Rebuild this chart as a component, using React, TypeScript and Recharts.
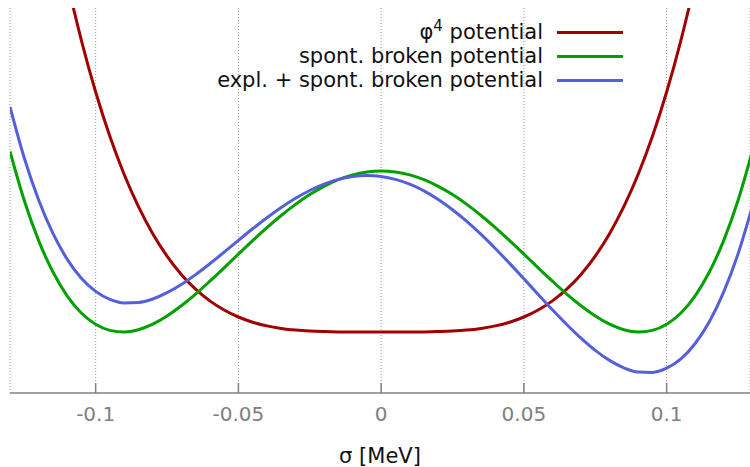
import React from 'react';
import { LineChart, Line, XAxis, YAxis, CartesianGrid, Legend } from 'recharts';

// sigma values [MeV]
const sigma: number[] = [
  -0.13, -0.125, -0.12, -0.115, -0.11, -0.105, -0.1, -0.095, -0.09, -0.085, -0.08, -0.075, -0.07,
  -0.065, -0.06, -0.055, -0.05, -0.045, -0.04, -0.035, -0.03, -0.025, -0.02, -0.015, -0.01, -0.005,
  0,
  0.005, 0.01, 0.015, 0.02, 0.025, 0.03, 0.035, 0.04, 0.045, 0.05, 0.055, 0.06, 0.065,
  0.07, 0.075, 0.08, 0.085, 0.09, 0.095, 0.1, 0.105, 0.11, 0.115, 0.12, 0.125, 0.13,
];

// phi^4 potential (arbitrary units)
const phi4: number[] = [
  6.855, 5.859, 4.977, 4.198, 3.514, 2.917, 2.4, 1.955, 1.575, 1.253, 0.983, 0.759, 0.576,
  0.428, 0.311, 0.22, 0.15, 0.098, 0.061, 0.036, 0.019, 0.009, 0.004, 0.001, 0.0, 0.0,
  0.0,
  0.0, 0.0, 0.001, 0.004, 0.009, 0.019, 0.036, 0.061, 0.098, 0.15, 0.22, 0.311, 0.428,
  0.576, 0.759, 0.983, 1.253, 1.575, 1.955, 2.4, 2.917, 3.514, 4.198, 4.977, 5.859, 6.855,
];

// spontaneously broken potential
const spont: number[] = [
  1.806, 1.315, 0.916, 0.602, 0.362, 0.19, 0.077, 0.016, 0.0, 0.023, 0.078, 0.16, 0.262,
  0.379, 0.508, 0.642, 0.779, 0.914, 1.044, 1.165, 1.276, 1.374, 1.457, 1.523, 1.571, 1.6,
  1.61,
  1.6, 1.571, 1.523, 1.457, 1.374, 1.276, 1.165, 1.044, 0.914, 0.779, 0.642, 0.508, 0.379,
  0.262, 0.16, 0.078, 0.023, 0.0, 0.016, 0.077, 0.19, 0.362, 0.602, 0.916, 1.315, 1.806,
];

// explicitly + spontaneously broken potential
const explicitBroken: number[] = [
  2.25, 1.74, 1.322, 0.988, 0.729, 0.538, 0.406, 0.326, 0.291, 0.295, 0.33, 0.393, 0.475,
  0.574, 0.683, 0.798, 0.916, 1.032, 1.142, 1.245, 1.337, 1.415, 1.479, 1.526, 1.555, 1.565,
  1.555,
  1.526, 1.478, 1.411, 1.325, 1.223, 1.106, 0.976, 0.835, 0.686, 0.532, 0.376, 0.222, 0.075,
  -0.062, -0.184, -0.284, -0.358, -0.4, -0.404, -0.362, -0.269, -0.115, 0.105, 0.401, 0.78, 1.252,
];

const xTicks: number[] = [-0.1, -0.05, 0, 0.05, 0.1];
const xTickLabels: string[] = ['-0.1', '-0.05', '0', '0.05', '0.1'];

const seriesNames: string[] = ['φ4 potential', 'spont. broken potential', 'expl. + spont. broken potential'];
const seriesColors: string[] = ['#a00000', '#00a000', '#5560d8'];

const data = sigma.map((s, i) => ({
  s,
  phi4: phi4[i],
  spont: spont[i],
  expl: explicitBroken[i],
}));

const FONT = '"DejaVu Sans", Verdana, sans-serif';

const LegendContent = () => (
  <div style={{ fontFamily: FONT, fontSize: 21, color: '#111' }}>
    {seriesNames.map((name, i) => (
      <div
        key={name}
        style={{ display: 'flex', justifyContent: 'flex-end', alignItems: 'center', height: 24 }}
      >
        <span style={{ whiteSpace: 'nowrap', lineHeight: '24px' }}>
          {i === 0 ? (
            <>
              φ<sup style={{ fontSize: 15, verticalAlign: 'top', lineHeight: '14px', position: 'relative', top: -1 }}>4</sup> potential
            </>
          ) : (
            name
          )}
        </span>
        <div style={{ marginLeft: 14, width: 66, height: 3, background: seriesColors[i] }} />
      </div>
    ))}
  </div>
);

export default function App() {
  return (
    <div style={{ position: 'absolute', left: 0, top: 0, width: 750, height: 467, background: '#fff' }}>
      <LineChart
        width={750}
        height={467}
        data={data}
        margin={{ top: 8, right: 0, left: 10, bottom: 0 }}
      >
        <CartesianGrid horizontal={false} stroke="#999" strokeDasharray="1 2" />
        <XAxis
          type="number"
          dataKey="s"
          domain={[-0.13, 0.1292]}
          ticks={xTicks}
          tickFormatter={(v: number) => xTickLabels[xTicks.indexOf(v)] ?? String(v)}
          allowDataOverflow
          height={74}
          tickSize={-10}
          tickMargin={24}
          axisLine={{ stroke: '#808080', strokeWidth: 1.5 }}
          tickLine={{ stroke: '#808080', strokeWidth: 1.5 }}
          tick={{ fill: '#808080', fontSize: 20, fontFamily: FONT }}
          label={{
            value: 'σ [MeV]',
            position: 'insideBottom',
            offset: 4,
            fill: '#111',
            fontSize: 21,
            fontFamily: FONT,
          }}
        />
        <YAxis
          type="number"
          domain={[-0.61, 3.24]}
          allowDataOverflow
          width={0}
          tick={false}
          tickLine={false}
          axisLine={{ stroke: '#808080', strokeWidth: 1.5 }}
        />
        <Legend
          layout="horizontal"
          verticalAlign="middle"
          align="center"
          content={<LegendContent />}
          wrapperStyle={{ position: 'absolute', top: 20, left: 0, width: 623, margin: 0 }}
        />
        <Line
          type="monotone"
          dataKey="phi4"
          stroke={seriesColors[0]}
          strokeWidth={3}
          dot={false}
          isAnimationActive={false}
        />
        <Line
          type="monotone"
          dataKey="spont"
          stroke={seriesColors[1]}
          strokeWidth={3}
          dot={false}
          isAnimationActive={false}
        />
        <Line
          type="monotone"
          dataKey="expl"
          stroke={seriesColors[2]}
          strokeWidth={3}
          dot={false}
          isAnimationActive={false}
        />
      </LineChart>
    </div>
  );
}
